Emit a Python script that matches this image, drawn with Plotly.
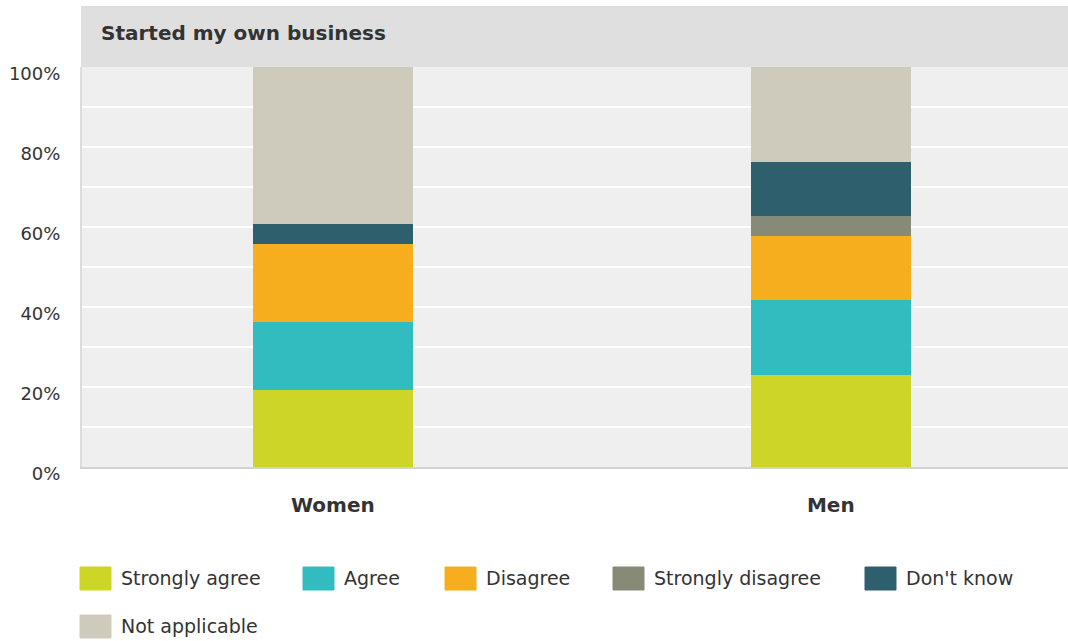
import plotly.graph_objects as go

# ---- data -------------------------------------------------------------
groups = ["Women", "Men"]
responses = ["Strongly agree", "Agree", "Disagree", "Strongly disagree",
             "Don't know", "Not applicable"]
strongly_agree = [19.3, 23.1]
agree = [16.9, 18.6]
disagree = [19.6, 16.0]
strongly_disagree = [0.0, 5.0]
dont_know = [5.0, 13.5]
not_applicable = [39.2, 23.8]
series_values = [strongly_agree, agree, disagree, strongly_disagree,
                 dont_know, not_applicable]
y_ticks = [0, 20, 40, 60, 80, 100]
y_tick_labels = ["0%", "20%", "40%", "60%", "80%", "100%"]
chart_title = "Started my own business"

# ---- styling ----------------------------------------------------------
colors = ["#cdd526", "#33bcbf", "#f6ae1f", "#878a77", "#2e5f6c", "#cecbbc"]
FONT = "DejaVu Sans, Verdana, sans-serif"
TEXT = "#333333"

W, H = 1068, 641
L, R, T, B = 82, 0, 67, 174
PW, PH = W - L - R, H - T - B


def px(x):
    return (x - L) / PW


def py(y):
    return (H - B - y) / PH


fig = go.Figure()
for name, vals, col in zip(responses, series_values, colors):
    fig.add_trace(go.Bar(
        x=groups, y=vals, name=name, width=0.322,
        marker=dict(color=col, line=dict(width=0)),
        showlegend=False,
        hovertemplate="%{x}: %{y:.1f}%<extra>" + name + "</extra>",
    ))

shapes = []
annotations = []

# header band with the chart title
shapes.append(dict(type="rect", xref="paper", yref="paper",
                   x0=px(81), x1=1, y0=1, y1=py(6),
                   fillcolor="#dfdfdf", line=dict(width=0), layer="below"))
annotations.append(dict(xref="paper", yref="paper", x=px(99), y=py(33),
                        xanchor="left", yanchor="middle", showarrow=False,
                        text="<b>" + chart_title + "</b>",
                        font=dict(family=FONT, size=20, color=TEXT)))

# legend drawn as swatches + labels
legend_x = [80, 303, 445, 613, 865, 80]
legend_y = [578, 578, 578, 578, 578, 626]
for name, col, lx, ly in zip(responses, colors, legend_x, legend_y):
    shapes.append(dict(type="rect", xref="paper", yref="paper",
                       x0=px(lx), x1=px(lx + 31), y0=py(ly + 12), y1=py(ly - 11),
                       fillcolor=col, line=dict(width=1, color=col)))
    annotations.append(dict(xref="paper", yref="paper", x=px(lx + 39), y=py(ly),
                            xanchor="left", yanchor="middle", showarrow=False,
                            text=name,
                            font=dict(family=FONT, size=19, color=TEXT)))

fig.update_layout(
    width=W, height=H,
    margin=dict(l=L, r=R, t=T, b=B, pad=0),
    barmode="stack",
    bargap=0,
    paper_bgcolor="white",
    plot_bgcolor="#efefef",
    shapes=shapes,
    annotations=annotations,
    xaxis=dict(
        type="category",
        range=[-0.5037, 1.4763],
        showgrid=False,
        showline=True, linecolor="#d2d2d2", linewidth=2,
        ticks="", ticklabelstandoff=19,
        tickfont=dict(family=FONT, size=20, color=TEXT, weight="bold"),
        fixedrange=True,
    ),
    yaxis=dict(
        range=[0, 100],
        tickvals=y_ticks, ticktext=y_tick_labels,
        showgrid=True, gridcolor="white", gridwidth=2,
        minor=dict(dtick=10, showgrid=True, gridcolor="white", gridwidth=2),
        zeroline=False,
        showline=True, linecolor="#dcdcdc", linewidth=2,
        ticks="", ticklabelstandoff=16, ticklabelshift=7,
        tickfont=dict(family=FONT, size=18, color=TEXT),
        fixedrange=True,
    ),
    font=dict(family=FONT, color=TEXT),
)

fig.write_html("out.html", config={"displayModeBar": False})
